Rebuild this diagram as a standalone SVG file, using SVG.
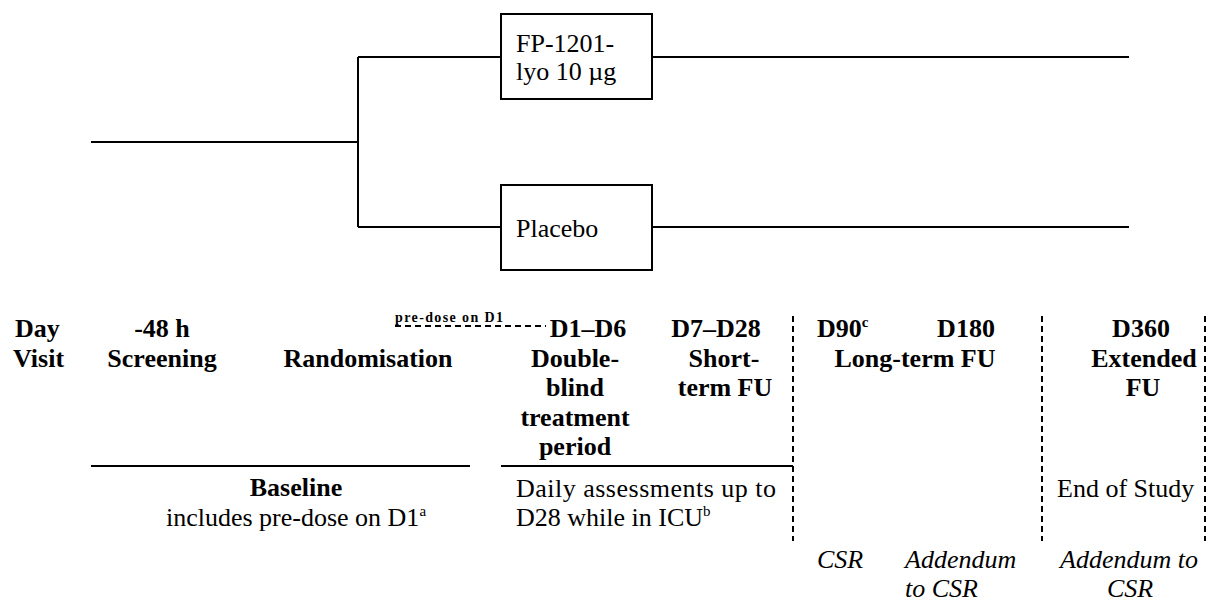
<svg xmlns="http://www.w3.org/2000/svg" width="1215" height="601" viewBox="0 0 1215 601" font-family="'Liberation Serif', 'DejaVu Serif', serif">
<style>
text{font-family:'Liberation Serif','DejaVu Serif','Times New Roman',serif;font-size:26px;fill:#000}
.b{font-weight:bold}
.i{font-style:italic}
.m{text-anchor:middle}
.sup{font-size:15px}
.sm{font-size:14px;font-weight:bold}
.ln{stroke:#000;stroke-width:2;fill:none}
.dash{stroke:#000;stroke-width:2;fill:none;stroke-dasharray:6 4}
.box{fill:#fff;stroke:#000;stroke-width:2}
</style>
<rect width="1215" height="601" fill="#fff"/>
<g id="connectors">
<path class="ln" d="M91 142H358M358 57V227M358 57H501M358 227H501M652 57H1129M652 227H1129"/>
</g>
<g id="node-fp1201">
<rect class="box" x="501" y="14" width="151" height="85"/>
<text x="516" y="52">FP-1201-</text>
<text x="516" y="80">lyo 10 µg</text>
</g>
<g id="node-placebo">
<rect class="box" x="501" y="185" width="151" height="85"/>
<text x="516" y="237">Placebo</text>
</g>
<g id="timeline">
<path class="ln" d="M91 466H470M501 466H793"/>
<path class="dash" d="M793 316V541M1042 316V541M1205 316V541"/>
<path class="dash" d="M395 326H546" stroke-dasharray="7 5"/>
<text class="sm" x="395" y="322" textLength="108" lengthAdjust="spacing">pre-dose on D1</text>
<text class="b" x="15" y="337">Day</text>
<text class="b" x="13" y="367">Visit</text>
<text class="b m" x="162" y="337">-48 h</text>
<text class="b m" x="162" y="367">Screening</text>
<text class="b m" x="368" y="367">Randomisation</text>
<text class="b m" x="588" y="337">D1–D6</text>
<text class="b m" x="575" y="367">Double-</text>
<text class="b m" x="575" y="396">blind</text>
<text class="b m" x="575" y="426">treatment</text>
<text class="b m" x="575" y="455">period</text>
<text class="b m" x="716" y="337">D7–D28</text>
<text class="b m" x="724" y="367">Short-</text>
<text class="b m" x="725" y="396">term FU</text>
<text class="b" x="817" y="337">D90<tspan class="sup" dy="-10">c</tspan></text>
<text class="b m" x="966" y="337">D180</text>
<text class="b m" x="915" y="367">Long-term FU</text>
<text class="b m" x="1141" y="337">D360</text>
<text class="b m" x="1144" y="367">Extended</text>
<text class="b m" x="1143" y="396">FU</text>
<text class="b m" x="296" y="496">Baseline</text>
<text class="m" x="296" y="526">includes pre-dose on D1<tspan class="sup" dy="-10">a</tspan></text>
<text x="516" y="497" textLength="260" lengthAdjust="spacing">Daily assessments up to</text>
<text x="516" y="526">D28 while in ICU<tspan class="sup" dy="-10">b</tspan></text>
<text x="1057" y="497">End of Study</text>
<text class="i" x="817" y="568">CSR</text>
<text class="i" x="905" y="568">Addendum</text>
<text class="i" x="905" y="597">to CSR</text>
<text class="i" x="1060" y="568">Addendum to</text>
<text class="i m" x="1130" y="597">CSR</text>
</g>
</svg>
